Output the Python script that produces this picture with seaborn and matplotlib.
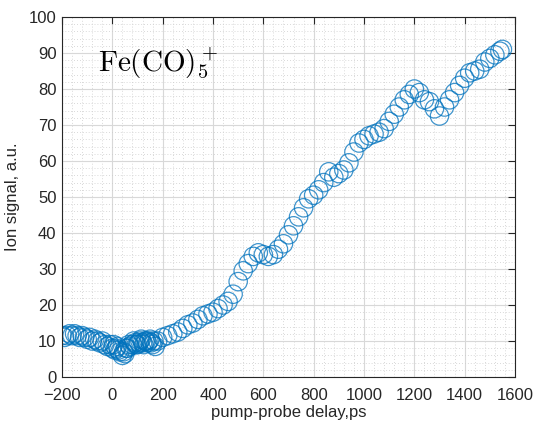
import pandas as pd
import seaborn as sns
import matplotlib.pyplot as plt
from matplotlib.ticker import AutoMinorLocator

# pump-probe delay (ps) and ion signal (a.u.)
delay_early = [-200, -190, -180, -170, -160, -150, -140, -130, -120, -110,
               -100, -90, -80, -70, -60, -50, -40, -30, -20, -10,
               0, 5, 10, 15, 20, 25, 30, 40, 45, 50, 55, 60, 65, 70, 80, 85,
               90, 95, 100, 105, 110, 115, 120, 125, 130, 135, 140, 145,
               150, 155, 160, 165, 170, 180]
signal_early = [11.5, 11, 11.5, 12, 11.5, 12, 11.5, 11, 11.5, 11,
                10.5, 11, 10, 10.5, 10, 9.5, 10, 9, 8.5, 9,
                8, 9, 7.5, 8, 8.5, 7.5, 7, 6, 7, 6.5, 8, 8, 9, 8.5, 9, 10,
                9.5, 9, 9, 9.5, 10, 10.5, 9.5, 9, 10, 10, 9.5, 10,
                10.5, 9.5, 9, 10, 8.5, 10]

delay_late = [200, 220, 240, 260, 280, 300, 320, 340, 360, 380,
              400, 420, 440, 460, 480, 500, 520, 540, 560, 580,
              600, 620, 640, 660, 680, 700, 720, 740, 760, 780,
              800, 820, 840, 860, 880, 900, 920, 940, 960, 980,
              1000, 1020, 1040, 1060, 1080, 1100, 1120, 1140, 1160, 1180,
              1200, 1220, 1240, 1260, 1280, 1300, 1320, 1340, 1360, 1380,
              1400, 1420, 1440, 1460, 1480, 1500, 1520, 1540, 1550]
signal_late = [11, 11.5, 12, 12.5, 13.5, 14.5, 15, 16, 17, 17.5,
               18, 19, 20, 21, 23, 26.5, 29.5, 31.5, 33.5, 34.5,
               34, 33.5, 34, 35.5, 37, 39.5, 42, 44.5, 47, 49.5,
               50.5, 52, 54, 57, 55.5, 56.5, 57.5, 59.5, 62.5, 65,
               66, 67, 67.5, 68, 69, 71, 73, 75, 77, 78.5,
               80, 79, 77, 76.5, 74.5, 72.5, 75, 77, 79, 81,
               83, 84.5, 85, 85.5, 87.5, 88.5, 89.5, 90.5, 91]

x_ticks = [-200, 0, 200, 400, 600, 800, 1000, 1200, 1400, 1600]
y_ticks = [0, 10, 20, 30, 40, 50, 60, 70, 80, 90, 100]

df = pd.DataFrame({
    "delay": delay_early + delay_late,
    "signal": signal_early + signal_late,
})

sns.set_theme(style="white")
plt.rcParams["font.family"] = ["Liberation Sans", "DejaVu Sans"]
plt.rcParams["mathtext.fontset"] = "cm"

fig = plt.figure(figsize=(5.35, 4.21), dpi=100)
ax = fig.add_axes([0.1159, 0.1045, 0.8467, 0.8551])

sns.scatterplot(data=df, x="delay", y="signal", ax=ax, marker="o", s=175,
                facecolors="none", edgecolor="#0072BD", linewidth=0.9,
                alpha=0.75, legend=False)

ax.set_xlim(-200, 1600)
ax.set_ylim(0, 100)
ax.set_xticks(x_ticks)
ax.set_yticks(y_ticks)
ax.xaxis.set_minor_locator(AutoMinorLocator(5))
ax.yaxis.set_minor_locator(AutoMinorLocator(5))
ax.grid(which="major", color="#d8d8d8", linewidth=0.8)
ax.grid(which="minor", color="#cccccc", linestyle=(0, (1, 2.5)), linewidth=0.6)
ax.set_axisbelow(True)

ax.tick_params(which="major", direction="in", length=5, width=0.8,
               top=True, right=True, labelsize=12, colors="#262626",
               labelcolor="#262626")
ax.tick_params(axis="x", which="major", pad=8)
ax.tick_params(axis="y", which="major", pad=4)
ax.tick_params(which="minor", length=0)
for s in ax.spines.values():
    s.set_color("#262626")
    s.set_linewidth(0.8)

ax.set_xlabel("pump-probe delay,ps", fontsize=12, color="#262626", labelpad=1)
ax.set_ylabel("Ion signal, a.u.", fontsize=12, color="#262626", labelpad=6)

ax.text(-58, 85, r"$\mathrm{Fe(CO)}_5^+$", fontsize=21, color="black",
        va="baseline", ha="left")

fig.savefig("out.png", dpi=100)
